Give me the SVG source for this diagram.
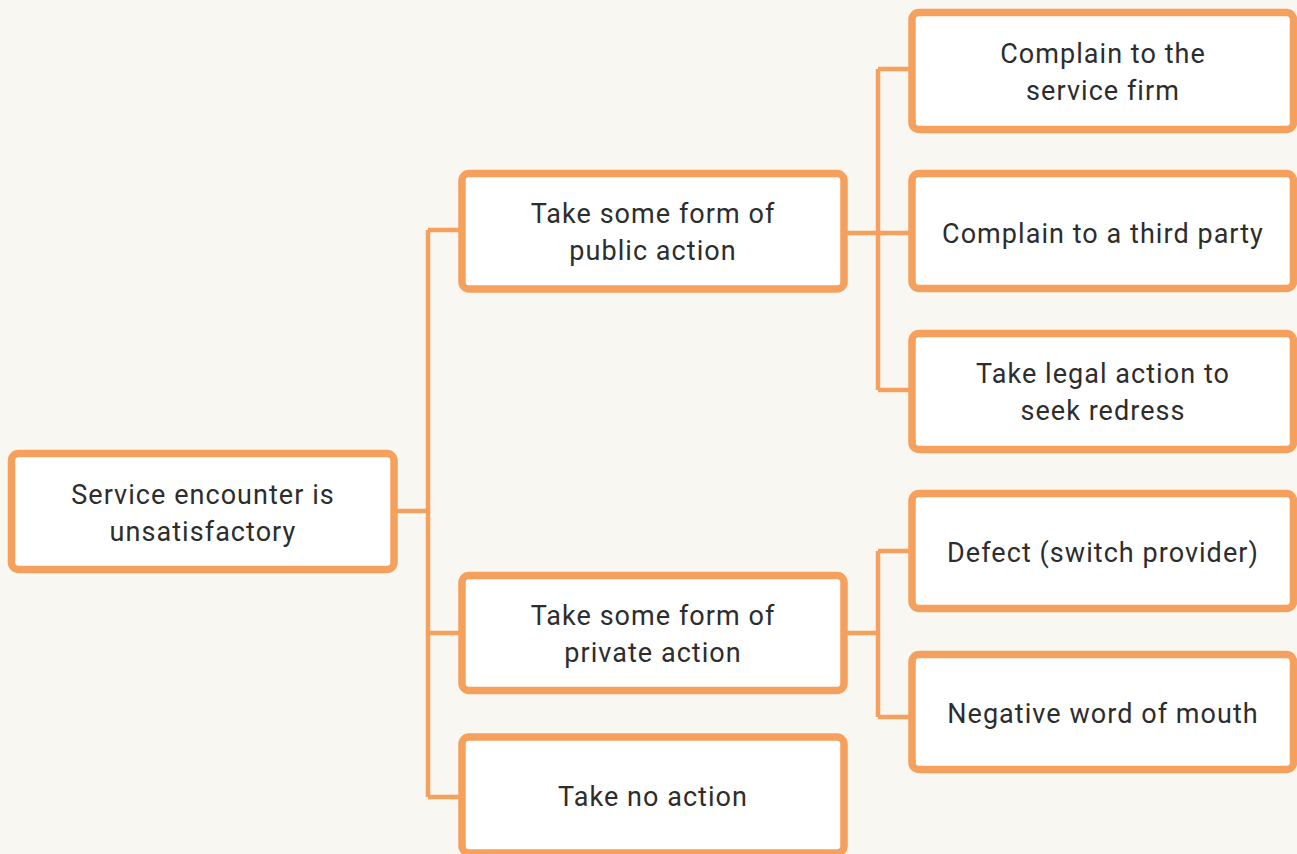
<svg xmlns="http://www.w3.org/2000/svg" width="1297" height="854" viewBox="0 0 1297 854">
<style>
.box{fill:#fff;stroke:#f6a05e;stroke-width:7.5}
.t{font-family:Roboto,"Liberation Sans",sans-serif;font-size:27px;letter-spacing:1.05px;fill:#2d2d2d;text-anchor:middle}
.c{fill:none;stroke:#f6a05e;stroke-width:4.5}
</style>
<rect width="1297" height="854" fill="#f8f7f2"/>
<g id="connectors">
<path class="c" d="M394 511H428M428 230V797M428 230H462M428 633H462M428 797H462"/>
<path class="c" d="M844 233H878M878 69V390M878 69H912M878 233H912M878 390H912"/>
<path class="c" d="M844 633H878M878 551V717M878 551H912M878 717H912"/>
</g>
<g id="root">
<rect class="box" x="11.5" y="453.5" width="382.5" height="116" rx="7"/>
<text class="t" x="203" y="503.5">Service encounter is</text>
<text class="t" x="203" y="540.5">unsatisfactory</text>
</g>
<g id="public">
<rect class="box" x="462" y="173.5" width="382" height="115.5" rx="7"/>
<text class="t" x="653" y="223">Take some form of</text>
<text class="t" x="653" y="260">public action</text>
</g>
<g id="private">
<rect class="box" x="462" y="575.5" width="382" height="115" rx="7"/>
<text class="t" x="653" y="624.5">Take some form of</text>
<text class="t" x="653" y="661.5">private action</text>
</g>
<g id="noaction">
<rect class="box" x="462" y="737" width="382" height="116" rx="7"/>
<text class="t" x="653" y="806">Take no action</text>
</g>
<g id="firm">
<rect class="box" x="912" y="12.5" width="381.5" height="117" rx="7"/>
<text class="t" x="1103" y="62.5">Complain to the</text>
<text class="t" x="1103" y="99.5">service firm</text>
</g>
<g id="third">
<rect class="box" x="912" y="173.5" width="381.5" height="115" rx="7"/>
<text class="t" x="1103" y="243">Complain to a third party</text>
</g>
<g id="legal">
<rect class="box" x="912" y="333.5" width="381.5" height="116" rx="7"/>
<text class="t" x="1103" y="383">Take legal action to</text>
<text class="t" x="1103" y="420">seek redress</text>
</g>
<g id="defect">
<rect class="box" x="912" y="493.5" width="381.5" height="115" rx="7"/>
<text class="t" x="1103" y="562">Defect (switch provider)</text>
</g>
<g id="wom">
<rect class="box" x="912" y="654.5" width="381.5" height="115" rx="7"/>
<text class="t" x="1103" y="723">Negative word of mouth</text>
</g>
</svg>
